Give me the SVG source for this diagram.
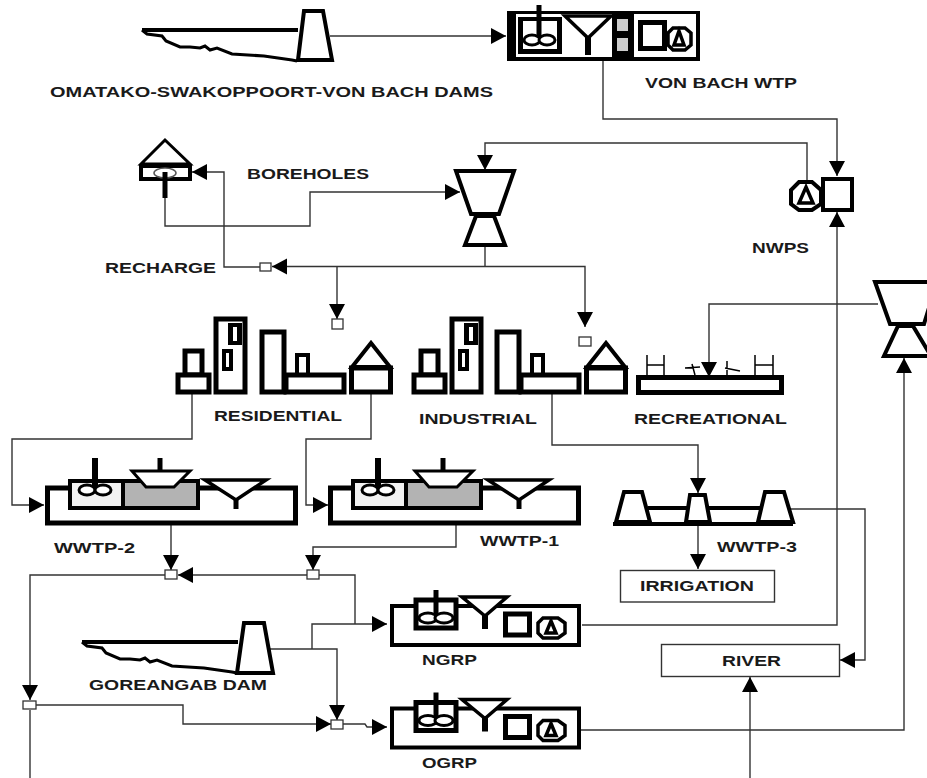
<svg xmlns="http://www.w3.org/2000/svg" xmlns:xlink="http://www.w3.org/1999/xlink" width="927" height="778" viewBox="0 0 927 778">
<style>
text{font-family:"Liberation Sans",Arial,sans-serif;font-weight:700;font-size:15px;fill:#1a1a1a}
.c{fill:none;stroke:#333;stroke-width:1.4}
.a{marker-end:url(#ah)}
.t3{fill:#fff;stroke:#000;stroke-width:3;stroke-linejoin:miter}
.t4{fill:#fff;stroke:#000;stroke-width:4}
.t5{fill:#fff;stroke:#000;stroke-width:5}
.n{fill:none;stroke:#000;stroke-width:4}
.th{fill:none;stroke:#000;stroke-width:1.5}
.j{fill:#fff;stroke:#333;stroke-width:1.3}
.b{fill:#fff;stroke:#333;stroke-width:1.4}
</style>
<defs>
<marker id="ah" markerUnits="userSpaceOnUse" markerWidth="16" markerHeight="16" refX="15" refY="8" orient="auto" overflow="visible"><path d="M0 0L15 8L0 16Z" fill="#000"/></marker>
<g id="lake"><path d="M0 0H156" fill="none" stroke="#000" stroke-width="4"/><path d="M0 0L5 4L20 6L24 11L38 17L48 17L58 18L63 16L68 20L75 18L90 24L122 26L150 30L155 31" fill="none" stroke="#000" stroke-width="3"/></g>
<g id="bldgA">
<rect class="t5" x="185" y="351" width="17" height="24"/><rect class="t5" x="178" y="375" width="31" height="17"/>
<rect class="t5" x="216" y="319" width="29" height="73"/>
<rect x="228" y="323" width="14" height="22" fill="#000"/><rect x="233" y="327" width="4" height="14" fill="#fff"/>
<rect x="222" y="349" width="11" height="22" fill="#000"/><rect x="226" y="353" width="3" height="14" fill="#fff"/>
</g>
<g id="bldgB">
<rect class="t5" x="262" y="332" width="22" height="60"/>
<rect class="t4" x="297" y="355" width="11" height="20"/>
<rect class="t5" x="286" y="375" width="58" height="17"/>
<path class="t4" d="M352 367L371 343L390 367Z"/><rect class="t5" x="351.500" y="368" width="39" height="24"/>
</g>
<g id="wwtp">
<rect class="t5" x="47.500" y="488" width="248" height="35"/>
<rect x="70" y="481" width="53" height="27" fill="#f2f2f2" stroke="#000" stroke-width="4"/>
<rect x="123" y="481" width="75" height="27" fill="#b3b3b3" stroke="#000" stroke-width="4"/>
<path d="M95 458V488" stroke="#000" stroke-width="6" fill="none"/>
<ellipse cx="87" cy="490" rx="8" ry="5" class="t3"/><ellipse cx="103" cy="490" rx="8" ry="5" class="t3"/>
<path class="t3" d="M132 471H190L174 487H146Z"/>
<path d="M160 458V471" stroke="#000" stroke-width="5"/>
<path d="M205 480H266L236 500Z" fill="#fff" stroke="#000" stroke-width="3.500"/>
<path d="M236 498V509" stroke="#000" stroke-width="5"/>
</g>
<g id="plant">
<rect class="t4" x="392" y="606" width="187" height="39"/>
<rect class="t5" x="416" y="600" width="40" height="28"/>
<path d="M436 590V622" stroke="#000" stroke-width="5"/>
<ellipse cx="428" cy="618" rx="9" ry="5" class="t3"/><ellipse cx="444" cy="618" rx="9" ry="5" class="t3"/>
<path d="M462 597H507L485 616Z" fill="#fff" stroke="#000" stroke-width="3.500"/>
<path d="M485 615V629" stroke="#000" stroke-width="6"/>
<rect class="t5" x="505.500" y="614" width="24" height="21"/>
<path d="M543 618H558L565 623V633L558 638H543L538 633V623Z" fill="#fff" stroke="#000" stroke-width="3.500"/>
<path d="M551 621L556 633H546Z" fill="#fff" stroke="#000" stroke-width="3.500"/>
</g>
</defs>

<g id="connectors">
<path class="c a" d="M330 36H506"/>
<path class="c a" d="M603 61V119H837V176"/>
<path class="c a" d="M807 185V143H485V170"/>
<path class="c a" d="M582 625H837V212"/>
<path class="c a" d="M165 198V226H310V192H460"/>
<path class="c" d="M485 246V266"/>
<path class="c a" d="M485 266.500H272"/>
<path class="c a" d="M485 266.500H585V327"/>
<path class="c a" d="M337 266.500V319"/>
<path class="c a" d="M260 267H224V172H192"/>
<path class="c a" d="M878 304H709V377"/>
<path class="c a" d="M580 730H904V358"/>
<path class="c a" d="M192 394V439H12V505H44"/>
<path class="c a" d="M371 394V439H306V505H328"/>
<path class="c a" d="M552 394V445H698V493"/>
<path class="c a" d="M698 524V569"/>
<path class="c a" d="M790 509H865V660H840"/>
<path class="c a" d="M171 524V570"/>
<path class="c a" d="M456 524V547H313V570"/>
<path class="c" d="M319 575H355V624"/>
<path class="c a" d="M307 575H178"/>
<path class="c a" d="M165 575H30V700"/>
<path class="c" d="M30 710V778"/>
<path class="c a" d="M312 649V624H387"/>
<path class="c a" d="M270 649H337V720"/>
<path class="c a" d="M36 705H183V724H331"/>
<path class="c a" d="M343 724H365L367 727H387"/>
<path class="c a" d="M750 778V677"/>
</g>

<g id="von-bach-dams">
<use xlink:href="#lake" href="#lake" transform="translate(142 30)"/>
<path class="t4" d="M304 11H323L332 60H298Z"/>
<text x="50" y="97" textLength="443" lengthAdjust="spacingAndGlyphs">OMATAKO-SWAKOPPOORT-VON BACH DAMS</text>
</g>

<g id="von-bach-wtp">
<rect x="507" y="11" width="193" height="50" fill="#000"/>
<rect x="516" y="14" width="96" height="43" fill="#fff"/>
<rect x="634" y="14" width="62" height="43" fill="#fff"/>
<rect x="518" y="17" width="44" height="37" fill="#000"/>
<rect x="523" y="21" width="34" height="28" fill="#fff"/>
<path d="M539 5V38" stroke="#000" stroke-width="5"/>
<ellipse cx="532" cy="40" rx="8" ry="5" class="t3"/><ellipse cx="547" cy="40" rx="8" ry="5" class="t3"/>
<path d="M565 16H611L588 38Z" fill="#fff" stroke="#000" stroke-width="3.500"/>
<path d="M588 36V55" stroke="#000" stroke-width="6"/>
<rect x="617" y="19" width="11" height="12" fill="#ccc"/><rect x="617" y="38" width="11" height="13" fill="#ccc"/>
<rect class="t5" x="640.500" y="22.500" width="24" height="26"/>
<path d="M673 28H685L691 33V45L685 50H673L668 45V33Z" fill="#fff" stroke="#000" stroke-width="3.500"/>
<path d="M679 31L684 45H674Z" fill="#fff" stroke="#000" stroke-width="3.500"/>
<text x="645" y="88" textLength="152" lengthAdjust="spacingAndGlyphs">VON BACH WTP</text>
</g>

<g id="nwps">
<path d="M799 182H812L821 190V204L812 210H799L791 204V190Z" fill="#fff" stroke="#000" stroke-width="4"/>
<path d="M806 187L813 203H799Z" fill="#fff" stroke="#000" stroke-width="3.500"/>
<rect class="t4" x="823" y="179" width="29" height="31"/>
<text x="752" y="253" textLength="57" lengthAdjust="spacingAndGlyphs">NWPS</text>
</g>

<g id="boreholes">
<path class="t3" d="M141 164L165 140L190 164Z"/>
<rect x="141" y="166" width="49" height="13" fill="#fff" stroke="#000" stroke-width="4"/>
<ellipse cx="165" cy="173" rx="11" ry="5" fill="#fff" stroke="#555" stroke-width="1.500"/>
<path d="M165 172V198" stroke="#000" stroke-width="5"/>
<text x="247" y="179" textLength="122" lengthAdjust="spacingAndGlyphs">BOREHOLES</text>
</g>

<g id="splitter-top">
<path class="t4" d="M456 171H514L499 214H471Z"/>
<path class="t4" d="M476 216H494L505 245H465Z"/>
</g>
<g id="splitter-right">
<path class="t4" d="M875 282H937L924 324H890Z"/>
<path class="t4" d="M898 326H913L931 356H884Z"/>
</g>

<g id="recharge-label"><text x="105" y="273" textLength="111" lengthAdjust="spacingAndGlyphs">RECHARGE</text></g>

<g id="junctions">
<rect class="j" x="260" y="263" width="11" height="8"/>
<rect class="j" x="332" y="319" width="11" height="10"/>
<rect class="j" x="579" y="337" width="12" height="9"/>
<rect class="j" x="165" y="570" width="12" height="9"/>
<rect class="j" x="307" y="570" width="12" height="9"/>
<rect class="j" x="23" y="701" width="13" height="8"/>
<rect class="j" x="331" y="720" width="12" height="9"/>
</g>

<g id="residential">
<use xlink:href="#bldgA" href="#bldgA"/><use xlink:href="#bldgB" href="#bldgB"/>
<text x="214" y="421" textLength="128" lengthAdjust="spacingAndGlyphs">RESIDENTIAL</text>
</g>
<g id="industrial">
<use xlink:href="#bldgA" href="#bldgA" transform="translate(236 0)"/><use xlink:href="#bldgB" href="#bldgB" transform="translate(235 0)"/>
<text x="419" y="424" textLength="118" lengthAdjust="spacingAndGlyphs">INDUSTRIAL</text>
</g>
<g id="recreational">
<rect class="t5" x="638.500" y="377.500" width="143" height="15"/>
<path class="th" d="M647 355V375M664 355V375M647 365H664M755 355V375M773 355V375M755 365H773M685 368L700 367M692 364L695 375M725 368L740 371M727 361L727 375"/>
<text x="634" y="424" textLength="153" lengthAdjust="spacingAndGlyphs">RECREATIONAL</text>
</g>

<g id="wwtp-2">
<use xlink:href="#wwtp" href="#wwtp"/>
<text x="54" y="553" textLength="81" lengthAdjust="spacingAndGlyphs">WWTP-2</text>
</g>
<g id="wwtp-1">
<use xlink:href="#wwtp" href="#wwtp" transform="translate(283 0)"/>
<text x="480" y="546" textLength="79" lengthAdjust="spacingAndGlyphs">WWTP-1</text>
</g>

<g id="wwtp-3">
<path class="n" d="M648 508H762"/>
<path class="t4" d="M624 492H642L650 522H616Z"/>
<path class="t4" d="M690 495H705L710 522H686Z"/>
<path class="t4" d="M765 492H784L793 522H758Z"/>
<path d="M613 524H793" stroke="#000" stroke-width="4"/>
<text x="717" y="552" textLength="80" lengthAdjust="spacingAndGlyphs">WWTP-3</text>
</g>

<g id="irrigation">
<rect class="b" x="620.500" y="570.500" width="154" height="31.500"/>
<text x="640" y="591" textLength="114" lengthAdjust="spacingAndGlyphs">IRRIGATION</text>
</g>
<g id="river">
<rect class="b" x="661.500" y="644.500" width="178" height="32"/>
<text x="722" y="666" textLength="59" lengthAdjust="spacingAndGlyphs">RIVER</text>
</g>

<g id="goreangab-dam">
<use xlink:href="#lake" href="#lake" transform="translate(82 642)"/>
<path class="t4" d="M244 623H264L273 673H237Z"/>
<text x="89" y="690" textLength="178" lengthAdjust="spacingAndGlyphs">GOREANGAB DAM</text>
</g>

<g id="ngrp">
<use xlink:href="#plant" href="#plant"/>
<text x="422" y="665" textLength="55" lengthAdjust="spacingAndGlyphs">NGRP</text>
</g>
<g id="ogrp">
<use xlink:href="#plant" href="#plant" transform="translate(0 102.500)"/>
<text x="422" y="768" textLength="55" lengthAdjust="spacingAndGlyphs">OGRP</text>
</g>
</svg>
